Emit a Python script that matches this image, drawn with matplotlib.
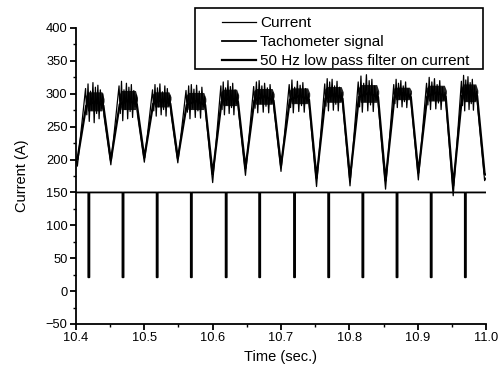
import numpy as np
import matplotlib
matplotlib.use("Agg")
import matplotlib.pyplot as plt
from matplotlib.patches import Rectangle
from matplotlib.ticker import MultipleLocator

plt.rcParams['font.family'] = ['Liberation Sans', 'DejaVu Sans']

# ---------------- data ----------------
# current valleys (time in s, value in A)
valley_t = [10.402, 10.451, 10.500, 10.549, 10.600, 10.648, 10.700, 10.752,
            10.801, 10.853, 10.901, 10.952, 10.998]
valley_v = [190, 192, 196, 195, 165, 176, 182, 159, 160, 155, 169, 145, 168]
current_start = (10.400, 203)
current_end = (11.000, 172)

# raw-current plateau noise: upper and lower excursions per cycle
plateau_hi = [
    [308, 315, 304, 317, 310, 313, 306, 300],
    [312, 319, 306, 316, 310, 314, 305, 298],
    [306, 314, 309, 315, 303, 312, 308, 298],
    [305, 312, 314, 307, 313, 304, 310, 296],
    [312, 318, 309, 320, 311, 316, 306, 300],
    [311, 318, 320, 312, 316, 309, 314, 302],
    [314, 321, 310, 319, 313, 317, 308, 300],
    [315, 323, 318, 322, 312, 319, 310, 302],
    [318, 327, 316, 329, 320, 322, 312, 303],
    [314, 322, 316, 320, 312, 318, 308, 300],
    [316, 325, 318, 323, 314, 320, 310, 302],
    [319, 328, 321, 326, 317, 322, 312, 304],
]
plateau_lo = [
    [268, 258, 275, 256, 270, 262, 278, 266],
    [270, 259, 276, 262, 273, 264, 280, 268],
    [274, 266, 280, 268, 276, 266, 282, 270],
    [272, 262, 278, 264, 274, 263, 280, 268],
    [276, 268, 283, 270, 279, 268, 285, 272],
    [278, 271, 285, 272, 281, 271, 286, 274],
    [279, 271, 286, 273, 282, 272, 287, 274],
    [281, 274, 288, 275, 284, 274, 289, 276],
    [280, 272, 288, 274, 283, 273, 290, 275],
    [285, 279, 292, 280, 288, 279, 293, 280],
    [283, 276, 290, 277, 286, 276, 291, 278],
    [282, 274, 289, 276, 285, 275, 290, 277],
]
# dense core of the noisy plateau band (lower, upper) per cycle
core_lo = [274, 276, 280, 276, 282, 284, 285, 287, 287, 291, 289, 288]
core_hi = [303, 305, 303, 302, 307, 308, 309, 311, 314, 310, 313, 315]
rise_time = 0.012     # valley -> plateau start
fall_time = 0.010     # plateau end -> next valley

# 50 Hz low-pass filtered current
filt_valley_v = [200, 199, 203, 202, 178, 187, 191, 172, 172, 168, 180, 160, 178]
filt_plateau_v = [288, 290, 291, 289, 294, 296, 297, 299, 301, 301, 302, 303]

# tachometer signal
tach_base = 150
tach_low = 21
tach_pulse_t = [10.418, 10.468, 10.518, 10.568, 10.619, 10.668, 10.719,
                10.769, 10.819, 10.869, 10.919, 10.969]
tach_pulse_width = 0.0016

x_ticks = [10.4, 10.5, 10.6, 10.7, 10.8, 10.9, 11.0]
x_tick_labels = ["10.4", "10.5", "10.6", "10.7", "10.8", "10.9", "11.0"]
y_ticks = [-50, 0, 50, 100, 150, 200, 250, 300, 350, 400]

# ---------------- build series ----------------
cur_t = [current_start[0]]
cur_v = [current_start[1]]
filt_t = [current_start[0]]
filt_v = [filt_valley_v[0] + 3]
bands = []
for k in range(len(valley_t)):
    cur_t.append(valley_t[k]); cur_v.append(valley_v[k])
    filt_t.append(valley_t[k]); filt_v.append(filt_valley_v[k])
    if k < len(plateau_hi):
        ps = valley_t[k] + rise_time
        pe = valley_t[k + 1] - fall_time
        hi, lo = plateau_hi[k], plateau_lo[k]
        n = len(hi)
        ts = np.linspace(ps, pe, 2 * n)
        for i in range(n):
            cur_t.append(ts[2 * i]); cur_v.append(hi[i])
            cur_t.append(ts[2 * i + 1]); cur_v.append(lo[i])
        filt_t += [ps + 0.001, (ps + pe) / 2, pe - 0.001]
        filt_v += [filt_plateau_v[k] - 6, filt_plateau_v[k], filt_plateau_v[k] - 6]
        bands.append((ps, pe, core_lo[k], core_hi[k]))
cur_t.append(current_end[0]); cur_v.append(current_end[1])
filt_t.append(current_end[0]); filt_v.append(current_end[1] + 5)

tach_t = [10.4]
tach_v = [tach_base]
for p in tach_pulse_t:
    tach_t += [p, p, p + tach_pulse_width, p + tach_pulse_width]
    tach_v += [tach_base, tach_low, tach_low, tach_base]
tach_t.append(11.0); tach_v.append(tach_base)

# ---------------- plot ----------------
W, H = 500, 373
fig = plt.figure(figsize=(W / 100, H / 100), dpi=100)
ax = fig.add_axes([76 / W, 1 - 324 / H, 410 / W, 296 / H])

for ps, pe, lo_c, hi_c in bands:
    mid = (lo_c + hi_c) / 2
    ax.fill_between([ps, ps + 0.003, pe - 0.003, pe],
                    [mid, lo_c, lo_c, mid], [mid + 8, hi_c, hi_c, mid + 4],
                    color='#222222', lw=0)
l1, = ax.plot(cur_t, cur_v, color='black', lw=0.9, label='Current')
l2, = ax.plot(tach_t, tach_v, color='black', lw=1.3, label='Tachometer signal',
              snap=False)
l3, = ax.plot(filt_t, filt_v, color='black', lw=1.6,
              label='50 Hz low pass filter on current')

ax.set_xlim(10.4, 11.0)
ax.set_ylim(-50, 400)
ax.set_xticks(x_ticks)
ax.set_xticklabels(x_tick_labels)
ax.set_yticks(y_ticks)
ax.xaxis.set_minor_locator(MultipleLocator(0.05))
ax.yaxis.set_minor_locator(MultipleLocator(25))
for s in ['top', 'right']:
    ax.spines[s].set_visible(False)
for s in ['left', 'bottom']:
    ax.spines[s].set_linewidth(1.3)
ax.tick_params(which='major', direction='out', length=4, width=1.3,
               labelsize=9.3, pad=2)
ax.tick_params(which='minor', direction='out', length=2.5, width=1.0)

ax.set_xlabel('Time (sec.)', fontsize=10.5, labelpad=4)
ax.set_ylabel('Current (A)', fontsize=10.5, labelpad=12)

leg = fig.legend(handles=[l1, l2, l3], loc='upper left',
                 bbox_to_anchor=(222 / W, 1 - 16 / H),
                 frameon=False, fontsize=11, handlelength=2.2,
                 handletextpad=0.3, labelspacing=0.33, borderpad=0,
                 borderaxespad=0)
fig.add_artist(Rectangle((195 / W, 1 - 69 / H), 288 / W, 61 / H,
                         transform=fig.transFigure, fill=False,
                         edgecolor='black', lw=1.2))

fig.savefig('out.png', dpi=100)
